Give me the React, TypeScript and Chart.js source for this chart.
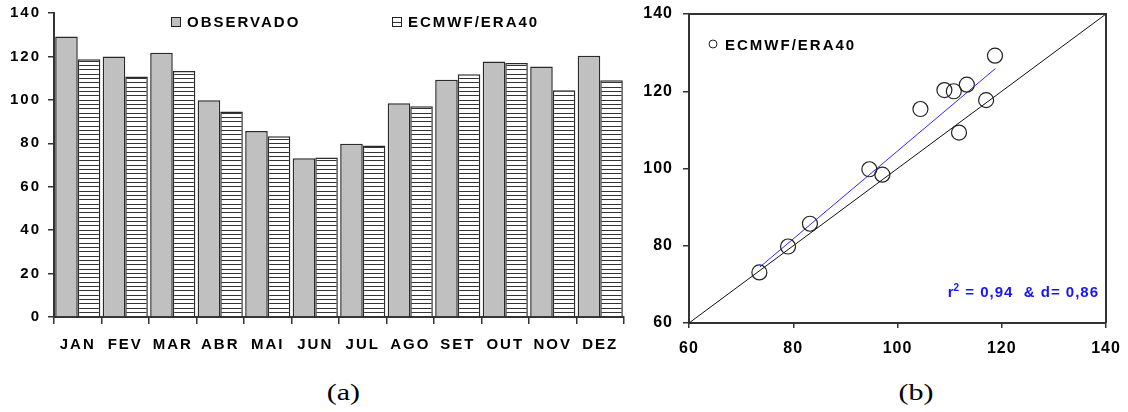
import React, { useEffect, useRef } from "react";
import { Chart, registerables } from "chart.js";

Chart.register(...registerables);
Chart.defaults.font.family = '"Liberation Sans", Arial, sans-serif';
Chart.defaults.color = "#000";

// ---- data ----
const months = ["JAN", "FEV", "MAR", "ABR", "MAI", "JUN", "JUL", "AGO", "SET", "OUT", "NOV", "DEZ"];
const observado = [129.2, 120.0, 121.7, 99.8, 85.7, 73.1, 79.8, 98.4, 109.3, 117.7, 115.4, 120.3];
const ecmwf = [118.7, 110.8, 113.3, 94.6, 83.2, 73.5, 79.0, 97.1, 111.8, 117.0, 104.4, 109.0];
const identityLine = [60, 140];
const fitX = [73.6, 118.8];
const fitY = [74.5, 125.9];
const statsText = ["r", "2", " = 0,94  & d= 0,86"];
const legendA = ["OBSERVADO", "ECMWF/ERA40"];
const legendB = "ECMWF/ERA40";

const AXIS = "#333";

function makeHatch(): CanvasPattern | string {
  const c = document.createElement("canvas");
  c.width = 8;
  c.height = 13;
  const g = c.getContext("2d");
  if (!g) return "#fff";
  g.fillStyle = "#fff";
  g.fillRect(0, 0, 8, 13);
  g.fillStyle = "#333";
  [0, 4, 9].forEach((y) => g.fillRect(0, y, 8, 1));
  return g.createPattern(c, "repeat") || "#fff";
}

const spacing = (px: number) => ({
  id: "spacing",
  beforeUpdate(chart: any) {
    chart.ctx.letterSpacing = px + "px";
  },
  beforeDraw(chart: any) {
    chart.ctx.letterSpacing = px + "px";
  },
});

const legendAPlugin = {
  id: "legendA",
  afterDraw(chart: any) {
    const ctx = chart.ctx as CanvasRenderingContext2D;
    const { left } = chart.chartArea;
    const ds = chart.data.datasets;
    const offsets = [117, 338];
    ctx.save();
    ctx.font = 'bold 15px "Liberation Sans", Arial, sans-serif';
    (ctx as any).letterSpacing = "2px";
    ctx.textBaseline = "alphabetic";
    ctx.textAlign = "left";
    offsets.forEach((o, i) => {
      const bx = left + o;
      ctx.fillStyle = ds[i].backgroundColor;
      ctx.fillRect(bx, 17, 10, 10);
      ctx.strokeStyle = "#222";
      ctx.lineWidth = 1;
      ctx.strokeRect(bx + 0.5, 17.5, 9, 9);
      ctx.fillStyle = "#000";
      ctx.fillText(legendA[i], bx + 16, 26.5);
    });
    ctx.restore();
  },
};

const framePlugin = {
  id: "frame",
  afterDatasetsDraw(chart: any) {
    const ctx = chart.ctx as CanvasRenderingContext2D;
    const { left, right, top, bottom } = chart.chartArea;
    ctx.save();
    ctx.strokeStyle = AXIS;
    ctx.lineWidth = 2;
    ctx.beginPath();
    ctx.moveTo(left, top);
    ctx.lineTo(right, top);
    ctx.lineTo(right, bottom);
    ctx.stroke();
    ctx.restore();
  },
};

const legendBPlugin = {
  id: "legendB",
  afterDraw(chart: any) {
    const ctx = chart.ctx as CanvasRenderingContext2D;
    const { left, top, right, bottom } = chart.chartArea;
    ctx.save();
    // legend
    ctx.strokeStyle = "#222";
    ctx.lineWidth = 1;
    ctx.beginPath();
    ctx.arc(left + 24, top + 30, 4, 0, Math.PI * 2);
    ctx.stroke();
    ctx.font = 'bold 15px "Liberation Sans", Arial, sans-serif';
    (ctx as any).letterSpacing = "2px";
    ctx.fillStyle = "#000";
    ctx.textBaseline = "alphabetic";
    ctx.textAlign = "left";
    ctx.fillText(legendB, left + 36, top + 35.5);
    // stats text
    (ctx as any).letterSpacing = "1px";
    ctx.fillStyle = "#1414ff";
    const big = 'bold 15px "Liberation Sans", Arial, sans-serif';
    const small = 'bold 10px "Liberation Sans", Arial, sans-serif';
    ctx.font = big;
    const w0 = ctx.measureText(statsText[0]).width;
    const w2 = ctx.measureText(statsText[2]).width;
    ctx.font = small;
    const w1 = ctx.measureText(statsText[1]).width;
    const base = bottom - 26;
    let x = right - 6 - (w0 + w1 + w2);
    ctx.font = big;
    ctx.fillText(statsText[0], x, base);
    x += w0 - 1;
    ctx.font = small;
    ctx.fillText(statsText[1], x, base - 6);
    x += w1;
    ctx.font = big;
    ctx.fillText(statsText[2], x, base);
    ctx.restore();
  },
};

function useChart(ref: React.RefObject<HTMLCanvasElement | null>, build: () => any) {
  useEffect(() => {
    if (!ref.current) return;
    const chart = new Chart(ref.current, build());
    return () => chart.destroy();
  }, []);
}

function fixX(h: number) {
  return (s: any) => {
    s.height = h;
    s.paddingLeft = 0;
    s.paddingRight = 0;
  };
}
function fixY(w: number) {
  return (s: any) => {
    s.width = w;
    s.paddingTop = 0;
    s.paddingBottom = 0;
  };
}

function BarChart() {
  const ref = useRef<HTMLCanvasElement>(null);
  useChart(ref, () => ({
    type: "bar",
    data: {
      labels: months,
      datasets: [
        {
          label: legendA[0],
          data: observado,
          backgroundColor: "#c0c0c0",
          borderColor: "#2a2a2a",
          borderWidth: 1.5,
        },
        {
          label: legendA[1],
          data: ecmwf,
          backgroundColor: makeHatch(),
          borderColor: "#2a2a2a",
          borderWidth: 1.5,
        },
      ],
    },
    options: {
      responsive: false,
      animation: false,
      events: [],
      layout: { padding: { top: 13, right: 16, left: 0, bottom: 0 } },
      datasets: { bar: { categoryPercentage: 0.95, barPercentage: 1 } },
      plugins: { legend: { display: false }, tooltip: { enabled: false } },
      scales: {
        x: {
          grid: { display: true, drawOnChartArea: false, offset: true, color: AXIS, lineWidth: 1.5, tickLength: 7 },
          border: { color: AXIS, width: 2 },
          ticks: { font: { size: 15, weight: "bold" }, color: "#000", padding: 12, maxRotation: 0, autoSkip: false },
          afterFit: fixX(43),
        },
        y: {
          min: 0,
          max: 140,
          ticks: { stepSize: 20, font: { size: 15, weight: "bold" }, color: "#000", padding: 7 },
          grid: { drawOnChartArea: false, color: AXIS, lineWidth: 1.5, tickLength: 6 },
          border: { color: AXIS, width: 2 },
          afterFit: fixY(54),
        },
      },
    },
    plugins: [spacing(2), legendAPlugin],
  }));
  return <canvas ref={ref} width={640} height={360} />;
}

function ScatterChart() {
  const ref = useRef<HTMLCanvasElement>(null);
  useChart(ref, () => ({
    type: "scatter",
    data: {
      datasets: [
        {
          label: legendB,
          data: ecmwf.map((x, i) => ({ x, y: observado[i] })),
          pointRadius: 7.5,
          pointBorderColor: "#222",
          pointBackgroundColor: "rgba(0,0,0,0)",
          pointBorderWidth: 1.2,
          showLine: false,
        },
        {
          label: "1:1",
          type: "line",
          data: identityLine.map((v) => ({ x: v, y: v })),
          borderColor: "#111",
          borderWidth: 1,
          pointRadius: 0,
        },
        {
          label: "ajuste",
          type: "line",
          data: fitX.map((x, i) => ({ x, y: fitY[i] })),
          borderColor: "#2a2aff",
          borderWidth: 1,
          pointRadius: 0,
        },
      ],
    },
    options: {
      responsive: false,
      animation: false,
      events: [],
      layout: { padding: { top: 14, right: 22, left: 0, bottom: 0 } },
      plugins: { legend: { display: false }, tooltip: { enabled: false } },
      scales: {
        x: {
          type: "linear",
          min: 60,
          max: 140,
          ticks: { stepSize: 20, font: { size: 16, weight: "bold" }, color: "#000", padding: 11 },
          grid: { drawOnChartArea: false, color: AXIS, lineWidth: 1.5, tickLength: 5 },
          border: { color: AXIS, width: 2 },
          afterFit: fixX(37),
        },
        y: {
          type: "linear",
          min: 60,
          max: 140,
          ticks: { stepSize: 20, font: { size: 16, weight: "bold" }, color: "#000", padding: 10 },
          grid: { drawOnChartArea: false, color: AXIS, lineWidth: 1.5, tickLength: 6 },
          border: { color: AXIS, width: 2 },
          afterFit: fixY(49),
        },
      },
    },
    plugins: [spacing(1), framePlugin, legendBPlugin],
  }));
  return <canvas ref={ref} width={488} height={360} />;
}

const captionStyle: React.CSSProperties = {
  position: "absolute",
  top: 378,
  width: 100,
  textAlign: "center",
  fontFamily: '"Liberation Serif", "Times New Roman", serif',
  fontSize: 24,
  lineHeight: "28px",
  color: "#000",
};

export default function App() {
  return (
    <div style={{ position: "fixed", left: 0, top: 0, width: 1128, height: 412, background: "#fff", overflow: "hidden" }}>
      <div style={{ position: "absolute", left: 0, top: 0 }}>
        <BarChart />
      </div>
      <div style={{ position: "absolute", left: 640, top: 0 }}>
        <ScatterChart />
      </div>
      <div style={{ ...captionStyle, left: 293 }}>
        <span style={{ display: "inline-block", transform: "scaleX(1.25)" }}>(a)</span>
      </div>
      <div style={{ ...captionStyle, left: 866 }}>
        <span style={{ display: "inline-block", transform: "scaleX(1.25)" }}>(b)</span>
      </div>
    </div>
  );
}
